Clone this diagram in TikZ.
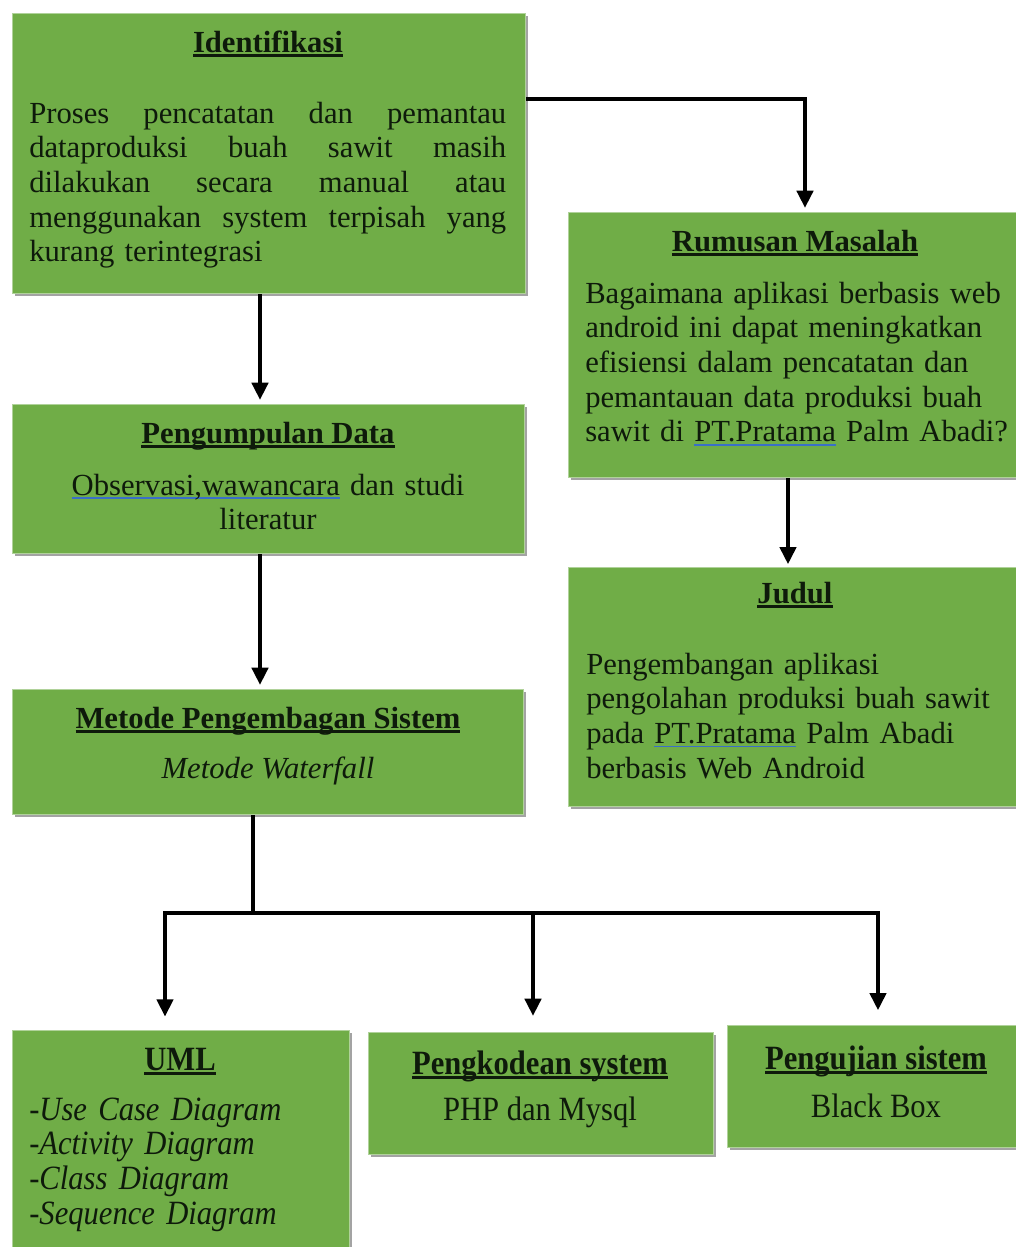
\documentclass[tikz,border=0pt]{standalone}
\usepackage{fontspec}
\setmainfont{Liberation Serif}
\newfontfamily\tallserif[FakeStretch=0.9]{Liberation Serif}
\usetikzlibrary{arrows.meta,calc,shadows}

\definecolor{boxgreen}{HTML}{70AD47}
\definecolor{inkdark}{HTML}{0E1A0B}
\definecolor{spellblue}{HTML}{3A6FC8}

% bold underlined heading, and the blue spell-check underline
\newsavebox\linebx
\newcommand\heading[1]{\sbox\linebx{\textbf{#1}}%
  \rlap{\rule[-3.4pt]{\wd\linebx}{1.9pt}}\usebox\linebx}
\newcommand\spellmark[1]{\sbox\linebx{#1}%
  \rlap{\textcolor{spellblue}{\rule[-3pt]{\wd\linebx}{1.2pt}}}\usebox\linebx}
% one fully justified line
\newcommand\fullline[1]{\makebox[357.75pt][l]{#1}}

\tikzset{
  panel/.style={anchor=north west, inner sep=0pt, fill=boxgreen,
    draw=boxgreen!55!white, line width=0.8pt,
    drop shadow={shadow xshift=2.2pt, shadow yshift=-2.2pt, fill=black!45, opacity=0.8}},
  txt/.style={inner sep=0pt, text=inkdark, font=\fontsize{23}{26}\selectfont},
  talltxt/.style={inner sep=0pt, text=inkdark, font=\tallserif\fontsize{25.5}{26}\selectfont},
  link/.style={line width=3.4pt, draw=black},
  arr/.style={link, -{Triangle[length=13pt,width=12pt]}},
}

\begin{document}
\begin{tikzpicture}[x=0.75pt, y=-0.75pt]
\useasboundingbox (0,0) rectangle (1016,1247);

% ---- boxes ----
\node[panel, minimum width=384.75pt, minimum height=210pt]   (idf) at (12,13)   {};
\node[panel, minimum width=339pt,    minimum height=198.75pt] (rum) at (568,212)  {};
\node[panel, minimum width=339pt,    minimum height=179.25pt] (jud) at (568,567)  {};
\node[panel, minimum width=384pt,    minimum height=111.75pt] (pgd) at (12,404)  {};
\node[panel, minimum width=383.25pt, minimum height=93.75pt]  (met) at (12,689)  {};
\node[panel, minimum width=252.75pt, minimum height=168.75pt] (uml) at (12,1030) {};
\node[panel, minimum width=258.75pt, minimum height=91.5pt]   (kod) at (368,1032) {};
\node[panel, minimum width=219.75pt, minimum height=91.5pt]   (uji) at (727,1025) {};

% ---- texts ----
\node[txt, anchor=base] (idfT) at (268,52) {\heading{Identifikasi}};
\node[txt, anchor=base west, text width=357.75pt] (idfB) at (29,123)
  {\fullline{Proses\hfill pencatatan\hfill dan\hfill pemantau}\\
   \fullline{dataproduksi\hfill buah\hfill sawit\hfill masih}\\
   \fullline{dilakukan\hfill secara\hfill manual\hfill atau}\\
   \fullline{menggunakan\hfill system\hfill terpisah\hfill yang}\\
   kurang terintegrasi};

\node[txt, anchor=base] (rumT) at (795,251) {\heading{Rumusan Masalah}};
\node[txt, anchor=base west, text width=320pt] (rumB) at (585,303)
  {\raggedright Bagaimana aplikasi berbasis web\\
   android ini dapat meningkatkan\\
   efisiensi dalam pencatatan dan\\
   pemantauan data produksi buah\\
   sawit di \spellmark{PT.Pratama} Palm Abadi?};

\node[txt, anchor=base] (judT) at (795,603) {\heading{Judul}};
\node[txt, anchor=base west, text width=320pt] (judB) at (586,674)
  {\raggedright Pengembangan aplikasi\\
   pengolahan produksi buah sawit\\
   pada \spellmark{PT.Pratama} Palm Abadi\\
   berbasis Web Android};

\node[txt, anchor=base] (pgdT) at (268,443) {\heading{Pengumpulan Data}};
\node[txt, anchor=base, text width=370pt] (pgdB) at (268,495)
  {\centering\spellmark{Observasi,wawancara} dan studi\\ literatur\par};

\node[txt, anchor=base] (metT) at (268,728) {\heading{Metode Pengembagan Sistem}};
\node[txt, anchor=base] (metB) at (268,778) {\itshape Metode Waterfall};

\node[talltxt, anchor=base] (umlT) at (180,1070) {\heading{UML}};
\node[talltxt, anchor=base west, text width=240pt] (umlB) at (29,1120)
  {\raggedright\itshape -Use Case Diagram\\
   -Activity Diagram\\
   -Class Diagram\\
   -Sequence Diagram};

\node[talltxt, anchor=base] (kodT) at (540,1074) {\heading{Pengkodean system}};
\node[talltxt, anchor=base] (kodB) at (540,1120) {PHP dan Mysql};

\node[talltxt, anchor=base] (ujiT) at (876,1069) {\heading{Pengujian sistem}};
\node[talltxt, anchor=base] (ujiB) at (876,1117) {Black Box};

% ---- connectors ----
\draw[arr, shorten >=3pt] ($(idf.north east)+(0,86)$) -| ($(rum.north west)+(237,0)$);
\draw[arr, shorten >=2pt] ($(rum.south west)+(220,0)$) -- ($(jud.north west)+(220,0)$);
\draw[arr, shorten >=3pt] ($(idf.south west)+(248,0)$) -- ($(pgd.north west)+(248,0)$);
\draw[arr, shorten >=3pt] ($(pgd.south west)+(248,0)$) -- ($(met.north west)+(248,0)$);

\coordinate (busL) at (165,913);
\coordinate (busR) at (878,913);
\coordinate (busM) at (533,913);
\draw[link] ($(met.south west)+(241,0)$) -- ($(met.south west)+(241,99)$);
\draw[link, line cap=rect] (busL) -- (busR);
\draw[arr, shorten >=10pt] (busL) -- (uml.north -| busL);
\draw[arr, shorten >=12pt] (busM) -- (kod.north -| busM);
\draw[arr, shorten >=11pt] (busR) -- (uji.north -| busR);
\end{tikzpicture}
\end{document}
